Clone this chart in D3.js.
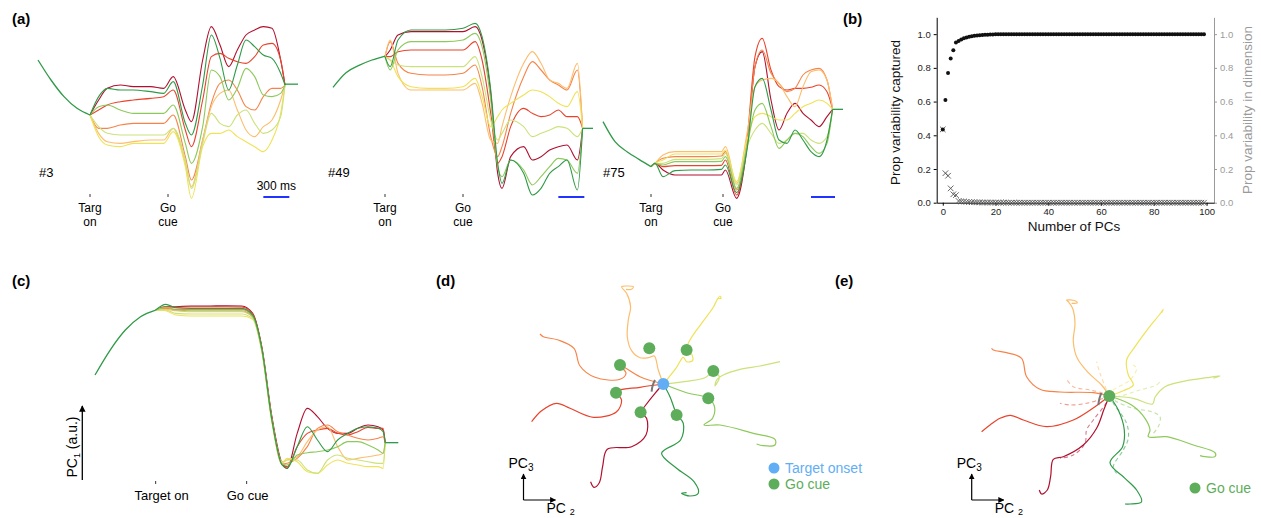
<!DOCTYPE html>
<html>
<head>
<meta charset="utf-8">
<script src="https://cdn.jsdelivr.net/npm/d3@7"></script>
<style>
  body { margin: 0; background: #fff; }
  text { font-family: "Liberation Sans", Arial, Helvetica, sans-serif; }
</style>
</head>
<body>
<svg id="fig" width="1261" height="518"></svg>
<script>
// ---------------- data ----------------
var conditions = ["T1", "T2", "T3", "T4", "T5", "T6", "T7", "T8"];
var condColors = ["#b0102f", "#e8442d", "#f6844a", "#fdbd6c", "#efe257", "#cbe27a", "#8dc95b", "#2f9a47"];

// (a) single-unit rates, pre-target part is shared by all conditions
var preTimes = [-600, -450, -300, -150, 0];
var eventTimes = [0, 900];
var eventLabelsA = [["Targ", "on"], ["Go", "cue"]];
var eventLabelsC = ["Target on", "Go cue"];
var scaleBarMs = [2000, 2300];

var unit3Times = [0, 100, 200, 350, 500, 700, 850, 960, 1100, 1170, 1300, 1400, 1500, 1600, 1700, 1800, 1900, 2000, 2100, 2200, 2250];
var unit3Pre = [84, 72, 62, 55, 51];
var unit3Hold = 69.5;
var unit3Rates = [
  [51, 60, 67, 69, 68, 68, 67, 74, 54, 47, 84, 104, 93, 80, 90, 99, 102, 104, 103, 84, 69],
  [51, 54, 57, 59, 60, 61, 62, 66, 42, 32, 60, 86, 88, 85, 83, 82, 86, 93, 94, 84, 69],
  [51, 43, 43, 45, 46, 46, 46, 51, 26, 12, 36, 58, 70, 72, 66, 56, 54, 62, 67, 67, 69],
  [51, 40, 35, 34, 35, 36, 36, 43, 22, 8, 36, 56, 64, 66, 54, 42, 38, 44, 48, 60, 69],
  [51, 38, 33, 32, 34, 34, 34, 41, 20, 1, 32, 40, 40, 42, 38, 35, 32, 29, 36, 52, 69],
  [51, 44, 40, 39, 39, 39, 39, 43, 24, 7, 34, 52, 46, 44, 51, 54, 46, 40, 42, 50, 69],
  [51, 56, 57, 54, 52, 52, 52, 57, 34, 22, 44, 78, 74, 60, 67, 79, 74, 63, 62, 64, 69],
  [51, 62, 67, 66, 66, 65, 64, 71, 46, 39, 69, 99, 85, 66, 81, 96, 92, 87, 85, 76, 69]
];

var unit49Times = [0, 60, 150, 300, 500, 700, 900, 1040, 1120, 1220, 1300, 1350, 1450, 1600, 1700, 1800, 1900, 2000, 2100, 2220, 2280];
var unit49Pre = [67.6, 76.4, 80.8, 84, 86.4];
var unit49Hold = 43;
var unit49Rates = [
  [86, 90, 99, 101, 101, 101, 101, 104, 96, 64, 16, 7, 26, 32, 24, 26, 30, 32, 33, 24, 43],
  [86, 86, 89, 90, 90, 90, 90, 95, 84, 52, 22, 26, 44, 55, 52, 50, 51, 54, 50, 50, 43],
  [86, 95, 82, 76, 75, 75, 76, 81, 68, 38, 26, 32, 52, 74, 83, 78, 72, 69, 66, 78, 43],
  [86, 96, 76, 66, 66, 66, 66, 70, 58, 36, 34, 44, 62, 82, 89, 82, 72, 70, 67, 82, 43],
  [86, 84, 74, 68, 67, 67, 68, 73, 62, 44, 50, 54, 58, 63, 66, 65, 62, 58, 56, 65, 43],
  [86, 84, 81, 80, 80, 80, 80, 86, 74, 48, 36, 40, 48, 44, 38, 40, 42, 44, 43, 38, 43],
  [86, 78, 90, 95, 95, 95, 96, 100, 92, 60, 20, 14, 24, 18, 9, 14, 20, 25, 24, 16, 43],
  [86, 80, 96, 102, 102, 102, 103, 106, 98, 66, 22, 10, 24, 16, 3, 7, 16, 20, 24, 6, 43]
];

var unit75Times = [0, 50, 150, 300, 500, 700, 880, 930, 1070, 1200, 1300, 1390, 1500, 1600, 1700, 1800, 1900, 2000, 2100, 2200, 2270];
var unit75Pre = [47, 35, 29, 24.4, 20];
var unit75Hold = 54.4;
var unit75Rates = [
  [20, 22, 18, 15, 15, 15, 15, 18, 1, 32, 80, 89, 60, 42, 52, 58, 52, 48, 44, 50, 54.4],
  [20, 22, 20, 20.6, 20.6, 20.6, 20.8, 24, 3, 36, 86, 97, 78, 68, 66, 67, 67, 67.6, 69, 65, 54.4],
  [20, 22, 25, 26, 26, 26, 26.4, 29, 6, 34, 80, 90, 76, 70, 65, 67, 75, 78, 79, 72, 54.4],
  [20, 22, 27, 29, 29, 29, 29, 32, 10, 40, 68, 72, 73, 70, 62, 56, 68, 77, 78, 72, 54.4],
  [20, 22, 24, 27.6, 27.6, 27.6, 27.6, 30, 11, 36, 50, 52, 50, 48, 48, 52, 56, 58, 60, 58, 54.4],
  [20, 22, 22, 24.4, 24.4, 24.4, 24.8, 28, 9, 32, 42, 46, 40, 34, 36, 40, 40, 36, 34, 38, 54.4],
  [20, 22, 21, 23, 23, 23, 23.2, 26, 7, 32, 54, 58, 44, 31, 36, 40, 38, 32, 28, 34, 54.4],
  [20, 22, 14, 17.6, 18, 18, 18.4, 21, 4.4, 30, 68, 73, 54, 36, 34, 42, 36, 29, 26, 36, 54.4]
];

// (b) variance explained
var pcCumVar = [
  0.435, 0.61, 0.77, 0.855, 0.905, 0.95, 0.96, 0.968, 0.975, 0.98,
  0.984, 0.987, 0.99, 0.992, 0.994, 0.995, 0.996, 0.997, 0.998, 0.998,
  0.999, 0.999, 0.999, 0.999, 0.999, 0.999, 0.999, 0.999, 0.999, 0.999,
  0.999, 0.999, 0.999, 0.999, 0.999, 0.999, 0.999, 0.999, 0.999, 0.999,
  0.999, 0.999, 0.999, 0.999, 0.999, 0.999, 0.999, 0.999, 0.999, 0.999,
  1.0, 1.0, 1.0, 1.0, 1.0, 1.0, 1.0, 1.0, 1.0, 1.0,
  1.0, 1.0, 1.0, 1.0, 1.0, 1.0, 1.0, 1.0, 1.0, 1.0,
  1.0, 1.0, 1.0, 1.0, 1.0, 1.0, 1.0, 1.0, 1.0, 1.0,
  1.0, 1.0, 1.0, 1.0, 1.0, 1.0, 1.0, 1.0, 1.0, 1.0,
  1.0, 1.0, 1.0, 1.0, 1.0, 1.0, 1.0, 1.0, 1.0, 1.0
];
var pcDimVar = [
  0.435, 0.175, 0.16, 0.085, 0.05, 0.045, 0.01, 0.008, 0.007, 0.005,
  0.004, 0.003, 0.003, 0.002, 0.002, 0.001, 0.001, 0.001, 0.001, 0.001,
  0.0005, 0.0005, 0.0005, 0.0005, 0.0005, 0, 0, 0, 0, 0,
  0, 0, 0, 0, 0, 0, 0, 0, 0, 0,
  0, 0, 0, 0, 0, 0, 0, 0, 0, 0,
  0, 0, 0, 0, 0, 0, 0, 0, 0, 0,
  0, 0, 0, 0, 0, 0, 0, 0, 0, 0,
  0, 0, 0, 0, 0, 0, 0, 0, 0, 0,
  0, 0, 0, 0, 0, 0, 0, 0, 0, 0,
  0, 0, 0, 0, 0, 0, 0, 0, 0, 0
];
var bTicksX = [0, 20, 40, 60, 80, 100];
var bTicksY = [0, 0.2, 0.4, 0.6, 0.8, 1.0];

// (c) PC1 projection
var pc1Times = [0, 100, 200, 350, 500, 700, 850, 960, 1050, 1150, 1250, 1300, 1400, 1500, 1600, 1700, 1800, 1900, 2000, 2100, 2200, 2250, 2270];
var pc1Pre = [63, 78, 90, 98, 102];
var pc1Hold = 22.4;
var pc1Values = [
  [102, 104, 104, 104.4, 104.4, 104.6, 104.4, 100, 80, 38, 10, 7, 28, 43, 38, 31, 28, 28, 31, 33, 32, 30, 22.4],
  [102, 104, 103.6, 104, 104, 104, 103.8, 99.6, 79, 37, 9.6, 8, 20, 28, 30, 31, 28, 27, 29, 31.6, 31, 31, 22.4],
  [102, 103, 102.4, 102.4, 102.4, 102.4, 102.4, 98.4, 78.4, 36, 9.6, 10, 13, 20, 31, 33, 29, 27, 25, 24, 25, 26, 22.4],
  [102, 102.4, 101.6, 101, 101, 101, 101, 97.6, 78, 35.6, 11, 12, 14, 23, 30, 32, 20, 12, 13, 14, 15, 16, 22.4],
  [102, 101.6, 99, 98.4, 98.4, 98.4, 98.4, 96.4, 77, 34.6, 10.4, 13, 11, 5, 4, 9, 12, 10, 9, 8, 8, 7, 22.4],
  [102, 102, 100, 99.6, 99.6, 99.6, 99.6, 96.8, 77.6, 35, 10, 12, 12, 6, 4, 12, 15, 13, 12, 11, 10, 10, 22.4],
  [102, 103.6, 102, 101.6, 101.6, 101.6, 101.6, 98, 78, 35.6, 9.6, 9, 15, 16.4, 17, 18, 20, 23, 23, 21, 18, 16, 22.4],
  [102, 105.4, 103.4, 103, 103, 103, 103, 99, 79, 36, 9, 7, 20, 32, 24, 17, 24, 28, 31, 32, 31, 29, 22.4]
];

// (d) PC2/PC3 trajectories aligned to target onset
var trajTarget = [
  [[0, 0], [-0.83, -0.93], [-1.83, -2.2], [-2.27, -2.83], [-1.67, -3.43], [-1.73, -5.1], [-3.17, -6.27], [-5.6, -6.53], [-6.07, -8.27], [-6.4, -9.87], [-6.93, -10.33], [-7.27, -9.77]],
  [[0, 0], [-2.33, -0.33], [-4.67, -0.77], [-4.17, -1.6], [-4.67, -2.77], [-7, -3.33], [-9.33, -2.43], [-10.67, -1.93], [-12.17, -2.67], [-13.17, -3.77]],
  [[0, 0], [-2.33, 0.73], [-4.33, 1.9], [-3.73, 1.07], [-4.33, 0.47], [-6.83, 0.67], [-8.33, 1.8], [-8.93, 3.57], [-10.5, 4.4], [-12, 4.73], [-12.33, 5]],
  [[0, 0], [-0.5, 1.4], [-0.9, 2.8], [-1.4, 2.65], [-2.33, 2.63], [-3.17, 3.33], [-3.6, 4.73], [-3.5, 6.4], [-3.27, 7.73], [-3.67, 9.07], [-4.17, 9.73], [-3.67, 9.8], [-3, 9.73], [-3.17, 9.47], [-3.73, 9.47]],
  [[0, 0], [1.33, 1.67], [2, 2.67], [2.33, 2.23], [2.93, 2.33], [2.83, 3], [2.27, 3.33], [2.67, 4.4], [3.83, 6.07], [5, 7.67], [5.4, 8.47], [5.67, 8.8], [5.77, 8.57], [5.5, 8.57]],
  [[0, 0], [2.33, 0.27], [4.17, 0.63], [5, 1.23], [5.6, 0.73], [5.17, -0.2], [5.33, 0.4], [6, 0.9], [7.67, 1.47], [9.67, 1.8], [11.67, 2.23]],
  [[0, 0], [2.33, -0.87], [4.5, -1.43], [5.1, -2.2], [4.93, -3.43], [4.07, -4.1], [5.67, -4.1], [9, -4.93], [11.17, -5.53], [11.17, -6.1], [10, -6.17], [9.33, -6]],
  [[0, 0], [0.67, -1.27], [1.33, -3], [2, -3.93], [1.73, -5.6], [-0.17, -6.93], [1.33, -8.43], [3.07, -9.77], [3.5, -10.93], [2.67, -11.2], [1.83, -10.93], [2.33, -10.87]]
];
var goCueTarget = [[-2.27, -2.83], [-4.73, -0.87], [-4.33, 1.9], [-1.4, 3.57], [2.33, 3.4], [5, 1.3], [4.5, -1.43], [1.33, -3.1]];
var preTarget = [[-0.83, 0.4], [-1.05, -0.1], [-1.17, -0.77]];

// (e) trajectories aligned to go cue (solid) and pre-go parts (dashed)
var trajGo = [
  [[0, 0], [-0.53, -1.33], [-1.27, -3.23], [-2.6, -4.9], [-4.6, -6.07], [-5.6, -6.33], [-5.87, -8.07], [-6.2, -9.4], [-6.77, -9.8], [-7, -9.4]],
  [[0, 0], [-1.43, -1.07], [-3.6, -2.4], [-6.27, -3.07], [-8.6, -2.4], [-9.87, -1.93], [-10.93, -2.23], [-11.93, -2.9], [-12.77, -3.57]],
  [[0, 0], [-1.6, 0.33], [-4.93, 0.4], [-6.93, 0.67], [-8.27, 1.93], [-8.77, 3.77], [-10.27, 4.33], [-11.6, 4.6], [-11.77, 4.77]],
  [[0, 0], [-0.77, 1.1], [-2.1, 2.33], [-3.2, 3.77], [-3.6, 5.43], [-3.43, 7.27], [-3.67, 8.77], [-4.1, 9.43], [-4.27, 9.6], [-3.43, 9.53], [-3.2, 9.33], [-3.77, 9.27]],
  [[0, 0], [1.4, 0.53], [2.4, 1.1], [1.9, 2.1], [1.73, 3.6], [2.57, 4.93], [3.9, 6.77], [5.07, 8.2], [5.4, 8.67], [5.23, 8.33]],
  [[0, 0], [2.4, -0.23], [4.33, -0.8], [4.57, -0.13], [5.57, 0.93], [7.73, 1.53], [9.73, 1.83], [11.07, 2], [10.4, 1.77]],
  [[0, 0], [2.23, -0.9], [3.57, -2.23], [4.07, -3.4], [3.9, -4.07], [5.73, -4.07], [8.4, -4.9], [10.57, -5.67], [10.57, -6.07], [9.57, -6.07], [9.07, -5.97]],
  [[0, 0], [0.9, -1.4], [1.5, -3.4], [1.33, -5.07], [0.07, -6.67], [1.57, -8.23], [2.73, -9.4], [3.23, -10.57], [2.07, -10.8], [1.57, -10.8]]
];
var trajGoPre = [
  [[0, 0], [-0.33, -0.73], [-1.6, -2.4], [-2.27, -3.4], [-2.43, -4.73], [-3.6, -5.9], [-4.93, -6.23]],
  [[0, 0], [-0.6, -0.23], [-2.27, -0.73], [-3.93, -0.9], [-4.93, -0.73]],
  [[0, 0], [-0.6, 0.27], [-1.93, 0.6], [-3.6, 0.93], [-4.27, 1.67]],
  [[0, 0], [-0.27, 0.6], [-0.93, 2.27], [-1.27, 3.43]],
  [[0, 0], [0.4, 0.6], [2.07, 1.6], [2.73, 2.77], [2.4, 3.1]],
  [[0, 0], [0.73, -0.07], [3.07, 0.6], [4.73, 1.1], [5.07, 1.43]],
  [[0, 0], [0.73, -0.57], [2.4, -1.23], [4.23, -1.57], [5.07, -2.07], [4.9, -3.07], [4.4, -3.73]],
  [[0, 0], [0.4, -0.73], [1.73, -2.73], [1.9, -4.23], [1.4, -5.4], [0.4, -7.07], [0.73, -7.73]]
];
var preGo = [[-0.8, 0.3], [-1.0, -0.3], [-1.1, -0.9]];

var targetBlue = "#62aef5";
var goGreen = "#5dad5b";
var mainFont = "Liberation Sans, Arial, Helvetica, sans-serif";

// ---------------- drawing ----------------
var svg = d3.select("#fig");
var defs = svg.append("defs");
defs.append("marker")
  .attr("id", "arrow").attr("viewBox", "0 0 10 10")
  .attr("refX", 9).attr("refY", 5)
  .attr("markerWidth", 5).attr("markerHeight", 5)
  .attr("orient", "auto")
  .append("path").attr("d", "M0,0 L10,5 L0,10 Z").attr("fill", "#000");

function panelLabel(txt, x, y) {
  svg.append("text").attr("x", x).attr("y", y)
    .attr("font-size", 15).attr("font-weight", "bold").text(txt);
}
panelLabel("(a)", 12, 24);
panelLabel("(b)", 843, 24);
panelLabel("(c)", 12, 286);
panelLabel("(d)", 436, 286);
panelLabel("(e)", 835, 286);

// ----- (a) -----
var unitPanels = [
  {name: "#3", times: unit3Times, pre: unit3Pre, rates: unit3Rates, hold: unit3Hold, x0: 38, x1: 298, nameX: 39, showMs: true},
  {name: "#49", times: unit49Times, pre: unit49Pre, rates: unit49Rates, hold: unit49Hold, x0: 333, x1: 593, nameX: 328, showMs: false},
  {name: "#75", times: unit75Times, pre: unit75Pre, rates: unit75Rates, hold: unit75Hold, x0: 603, x1: 843, nameX: 603, showMs: false}
];

unitPanels.forEach(function(p) {
  var g = svg.append("g");
  var x = d3.scaleLinear().domain([-600, 2400]).range([p.x0, p.x1]);
  var y = d3.scaleLinear().domain([0, 120]).range([200, 0]);
  var line = d3.line()
    .x(function(d) { return x(d[0]); })
    .y(function(d) { return y(d[1]); })
    .curve(d3.curveMonotoneX);

  g.selectAll(".cond")
    .data(p.rates)
    .enter()
    .append("path")
    .attr("class", "cond")
    .attr("d", function(r) { return line(d3.zip(p.times, r)); })
    .attr("fill", "none")
    .attr("stroke", function(r, i) { return condColors[i]; })
    .attr("stroke-width", 1.1);

  g.append("path")
    .attr("d", line(d3.zip(preTimes, p.pre)))
    .attr("fill", "none").attr("stroke", condColors[7]).attr("stroke-width", 1.3);
  var lastT = p.times[p.times.length - 1];
  g.append("path")
    .attr("d", d3.line()([[x(lastT), y(p.hold)], [x(2400), y(p.hold)]]))
    .attr("fill", "none").attr("stroke", condColors[7]).attr("stroke-width", 1.3);

  eventTimes.forEach(function(t, i) {
    g.append("line").attr("x1", x(t)).attr("x2", x(t)).attr("y1", 194).attr("y2", 197)
      .attr("stroke", "#000").attr("stroke-width", 0.8);
    g.append("text").attr("x", x(t)).attr("y", 212).attr("text-anchor", "middle")
      .attr("font-size", 12).text(eventLabelsA[i][0]);
    g.append("text").attr("x", x(t)).attr("y", 226).attr("text-anchor", "middle")
      .attr("font-size", 12).text(eventLabelsA[i][1]);
  });

  g.append("line")
    .attr("x1", x(scaleBarMs[0])).attr("x2", x(scaleBarMs[1]))
    .attr("y1", 197).attr("y2", 197)
    .attr("stroke", "#2233ff").attr("stroke-width", 2);
  if (p.showMs) {
    g.append("text").attr("x", (x(scaleBarMs[0]) + x(scaleBarMs[1])) / 2).attr("y", 190)
      .attr("text-anchor", "middle").attr("font-size", 12)
      .text((scaleBarMs[1] - scaleBarMs[0]) + " ms");
  }
  g.append("text").attr("x", p.nameX).attr("y", 177).attr("font-size", 13).text(p.name);
});

// ----- (b) -----
(function() {
  var g = svg.append("g");
  var x = d3.scaleLinear().domain([-2.3, 102.8]).range([936.7, 1214]);
  var y = d3.scaleLinear().domain([0, 1.1]).range([202.7, 17.3]);

  var axL = g.append("g").attr("transform", "translate(936.7,0)")
    .call(d3.axisLeft(y).tickValues(bTicksY).tickFormat(d3.format(".1f")).tickSize(3).tickSizeOuter(0));
  var axR = g.append("g").attr("transform", "translate(1214,0)")
    .call(d3.axisRight(y).tickValues(bTicksY).tickFormat(d3.format(".1f")).tickSize(3).tickSizeOuter(0));
  var axB = g.append("g").attr("transform", "translate(0,202.7)")
    .call(d3.axisBottom(x).tickValues(bTicksX).tickSize(3).tickSizeOuter(0));

  [axL, axB].forEach(function(a) {
    a.attr("font-family", mainFont).attr("font-size", 9.5);
    a.selectAll("text").attr("fill", "#222");
    a.selectAll("line,path").attr("stroke", "#000");
  });
  axR.attr("font-family", mainFont).attr("font-size", 9.5);
  axR.selectAll("text").attr("fill", "#9a9a9a");
  axR.selectAll("line,path").attr("stroke", "#9a9a9a");

  var idx = d3.range(pcCumVar.length);
  g.selectAll(".dimx")
    .data(idx)
    .enter()
    .append("path")
    .attr("class", "dimx")
    .attr("transform", function(i) { return "translate(" + x(i) + "," + y(pcDimVar[i]) + ")"; })
    .attr("d", "M-2.8,-2.8L2.8,2.8M-2.8,2.8L2.8,-2.8")
    .attr("stroke", "#555").attr("stroke-width", 0.9).attr("fill", "none");
  g.selectAll(".cumdot")
    .data(idx)
    .enter()
    .append("circle")
    .attr("class", "cumdot")
    .attr("cx", function(i) { return x(i); })
    .attr("cy", function(i) { return y(pcCumVar[i]); })
    .attr("r", 2)
    .attr("fill", "#111");

  g.append("text").attr("transform", "translate(900,112.5) rotate(-90)")
    .attr("text-anchor", "middle").attr("font-size", 13.5).attr("fill", "#111")
    .text("Prop variability captured");
  g.append("text").attr("transform", "translate(1252,110) rotate(-90)")
    .attr("text-anchor", "middle").attr("font-size", 13.5).attr("fill", "#9a9a9a")
    .text("Prop variability in dimension");
  g.append("text").attr("x", 1074).attr("y", 231)
    .attr("text-anchor", "middle").attr("font-size", 13.5).attr("fill", "#111")
    .text("Number of PCs");
})();

// ----- (c) -----
(function() {
  var g = svg.append("g");
  var x = d3.scaleLinear().domain([-600, 2400]).range([95, 398.3]);
  var y = d3.scaleLinear().domain([0, 110]).range([480, 296.7]);
  var line = d3.line()
    .x(function(d) { return x(d[0]); })
    .y(function(d) { return y(d[1]); })
    .curve(d3.curveMonotoneX);

  g.selectAll(".cond")
    .data(pc1Values)
    .enter()
    .append("path")
    .attr("class", "cond")
    .attr("d", function(r) { return line(d3.zip(pc1Times, r)); })
    .attr("fill", "none")
    .attr("stroke", function(r, i) { return condColors[i]; })
    .attr("stroke-width", 1.1);
  g.append("path").attr("d", line(d3.zip(preTimes, pc1Pre)))
    .attr("fill", "none").attr("stroke", condColors[7]).attr("stroke-width", 1.3);
  var lastT = pc1Times[pc1Times.length - 1];
  g.append("path").attr("d", d3.line()([[x(lastT), y(pc1Hold)], [x(2400), y(pc1Hold)]]))
    .attr("fill", "none").attr("stroke", condColors[7]).attr("stroke-width", 1.3);

  eventTimes.forEach(function(t, i) {
    g.append("line").attr("x1", x(t)).attr("x2", x(t)).attr("y1", 481).attr("y2", 484)
      .attr("stroke", "#000").attr("stroke-width", 0.8);
    g.append("text").attr("x", x(t) + (i === 0 ? 6 : 1)).attr("y", 500)
      .attr("text-anchor", "middle").attr("font-size", 13).text(eventLabelsC[i]);
  });

  g.append("line").attr("x1", 82.3).attr("x2", 82.3).attr("y1", 480).attr("y2", 406)
    .attr("stroke", "#000").attr("stroke-width", 1.3).attr("marker-end", "url(#arrow)");
  var lab = g.append("text").attr("transform", "translate(77,447) rotate(-90)")
    .attr("text-anchor", "middle").attr("font-size", 14);
  lab.append("tspan").text("PC");
  lab.append("tspan").attr("font-size", 9).attr("dy", 3).text("1");
  lab.append("tspan").attr("dy", -3).text(" (a.u.)");
})();

// ----- (d) and (e) -----
function drawStates(opts) {
  var g = svg.append("g");
  var x = d3.scaleLinear().domain([-10, 10]).range([opts.cx - 100, opts.cx + 100]);
  var y = d3.scaleLinear().domain([-10, 10]).range([opts.cy + 100, opts.cy - 100]);
  var line = d3.line()
    .x(function(d) { return x(d[0]); })
    .y(function(d) { return y(d[1]); })
    .curve(d3.curveCatmullRom.alpha(0.5));

  if (opts.dashed) {
    g.selectAll(".dash")
      .data(opts.dashed)
      .enter()
      .append("path")
      .attr("class", "dash")
      .attr("d", line)
      .attr("fill", "none")
      .attr("stroke", function(d, i) { return condColors[i]; })
      .attr("stroke-width", 1.1)
      .attr("stroke-opacity", 0.55)
      .attr("stroke-dasharray", "4,3");
  }
  g.selectAll(".traj")
    .data(opts.traj)
    .enter()
    .append("path")
    .attr("class", "traj")
    .attr("d", line)
    .attr("fill", "none")
    .attr("stroke", function(d, i) { return condColors[i]; })
    .attr("stroke-width", 1.2);

  g.append("path").attr("d", line(opts.pre))
    .attr("fill", "none").attr("stroke", "#777").attr("stroke-width", 2);

  if (opts.goDots) {
    g.selectAll(".go")
      .data(opts.goDots)
      .enter()
      .append("circle")
      .attr("class", "go")
      .attr("cx", function(d) { return x(d[0]); })
      .attr("cy", function(d) { return y(d[1]); })
      .attr("r", 6)
      .attr("fill", goGreen);
  }
  g.append("circle").attr("cx", x(0)).attr("cy", y(0)).attr("r", 6).attr("fill", opts.centerColor);

  // PC axes
  g.append("line").attr("x1", opts.ax).attr("x2", opts.ax).attr("y1", opts.ay).attr("y2", opts.ay - 26)
    .attr("stroke", "#000").attr("stroke-width", 1.2).attr("marker-end", "url(#arrow)");
  g.append("line").attr("x1", opts.ax).attr("x2", opts.ax + 32).attr("y1", opts.ay).attr("y2", opts.ay)
    .attr("stroke", "#000").attr("stroke-width", 1.2).attr("marker-end", "url(#arrow)");
  var t3 = g.append("text").attr("x", opts.ax - 15).attr("y", opts.ay - 32).attr("font-size", 14);
  t3.append("tspan").text("PC");
  t3.append("tspan").attr("font-size", 10).attr("dy", 3).text("3");
  var t2 = g.append("text").attr("x", opts.ax + 23).attr("y", opts.ay + 13).attr("font-size", 14);
  t2.append("tspan").text("PC ");
  t2.append("tspan").attr("font-size", 9).attr("dy", 2).text("2");

  // legend
  opts.legend.forEach(function(l, i) {
    g.append("circle").attr("cx", opts.lx).attr("cy", opts.ly + i * 16).attr("r", 5.5).attr("fill", l.color);
    g.append("text").attr("x", opts.lx + 11).attr("y", opts.ly + i * 16 + 5)
      .attr("font-size", 14).attr("fill", l.color).text(l.text);
  });
}

drawStates({
  cx: 663.3, cy: 384, traj: trajTarget, goDots: goCueTarget, pre: preTarget,
  centerColor: targetBlue, ax: 523.5, ay: 500, lx: 774, ly: 468,
  legend: [{text: "Target onset", color: targetBlue}, {text: "Go cue", color: goGreen}]
});
drawStates({
  cx: 1109.3, cy: 396, traj: trajGo, dashed: trajGoPre, pre: preGo,
  centerColor: goGreen, ax: 971.7, ay: 500, lx: 1195, ly: 488,
  legend: [{text: "Go cue", color: goGreen}]
});
</script>
</body>
</html>
